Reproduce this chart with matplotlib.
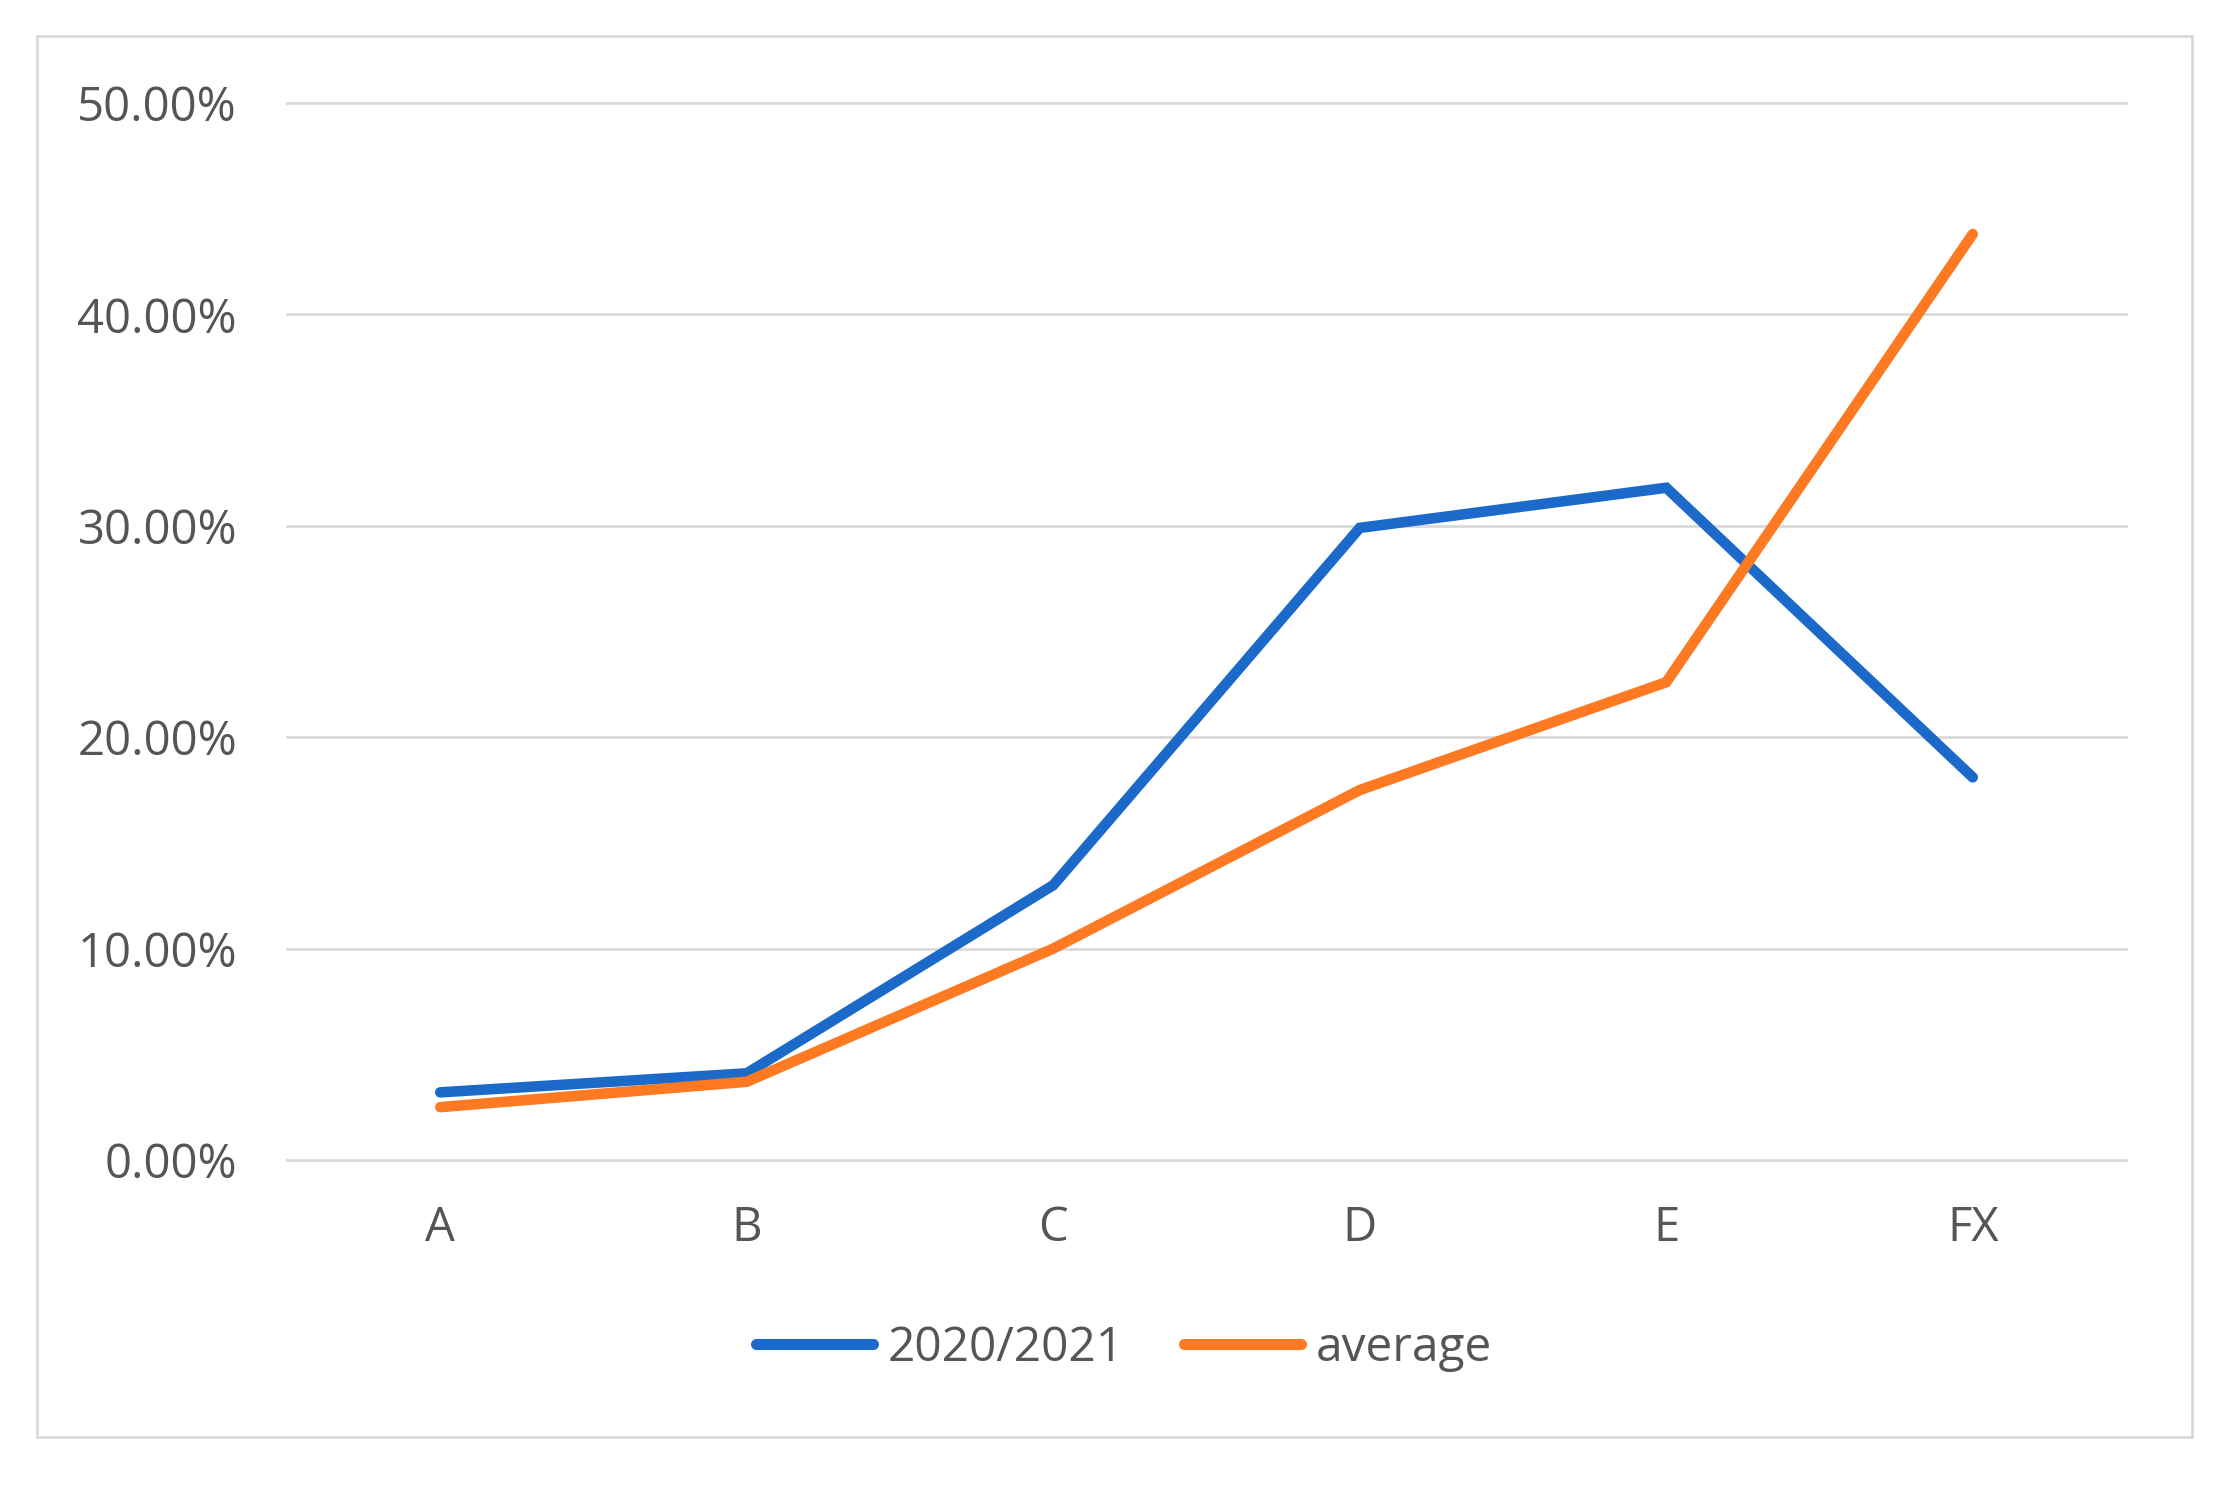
import matplotlib
matplotlib.use("Agg")
import matplotlib.pyplot as plt
from matplotlib.patches import Rectangle
from matplotlib.ticker import FuncFormatter, MultipleLocator

categories = ["A", "B", "C", "D", "E", "FX"]
series_2020_2021 = [0.032, 0.041, 0.130, 0.299, 0.318, 0.181]
series_average = [0.025, 0.037, 0.100, 0.175, 0.226, 0.438]
labels = ["2020/2021", "average"]
colors = ["#1b6ac9", "#fd7a23"]

plt.rcParams['font.family'] = ['Open Sans', 'DejaVu Sans']

W, H = 2230, 1494
fig = plt.figure(figsize=(W / 100, H / 100), dpi=100)
fig.patch.set_facecolor("white")

# outer chart frame
fig.patches.append(Rectangle((37 / W, 1 - 1437 / H), (2192 - 37) / W, (1437 - 36) / H,
                             transform=fig.transFigure, fill=False,
                             edgecolor="#d9d9d9", linewidth=2.0, zorder=0))

ax = fig.add_axes([287 / W, 1 - 1160 / H, (2126 - 287) / W, (1160 - 103) / H])
x = list(range(len(categories)))
for vals, lab, c in zip([series_2020_2021, series_average], labels, colors):
    ax.plot(x, vals, color=c, lw=7.6, label=lab, solid_capstyle="round",
            solid_joinstyle="miter", zorder=3)

ax.set_xlim(-0.5, len(categories) - 0.5)
ax.set_ylim(0, 0.5)
ax.yaxis.set_major_locator(MultipleLocator(0.1))
ax.yaxis.set_major_formatter(FuncFormatter(lambda v, p: f"{v*100:.2f}%"))
ax.set_xticks(x)
ax.set_xticklabels(categories)
ax.grid(axis="y", color="#d9d9d9", lw=2.0, zorder=0)
for gl in ax.get_ygridlines():
    gl.set_clip_on(False)
for s in ax.spines.values():
    s.set_visible(False)
ax.tick_params(axis="both", length=0, labelsize=34, labelcolor="#555555")
ax.tick_params(axis="y", pad=36)
ax.tick_params(axis="x", pad=32)

leg = fig.legend(loc="center", bbox_to_anchor=(1124 / W, 1 - 1348 / H), ncol=2,
                 frameon=False, fontsize=34.5, handlelength=2.45, handletextpad=0.3,
                 columnspacing=1.25, labelcolor="#555555")
for h in leg.get_lines():
    h.set_linewidth(8)
    h.set_solid_capstyle("round")

fig.savefig("out.png", dpi=100, facecolor="white")
